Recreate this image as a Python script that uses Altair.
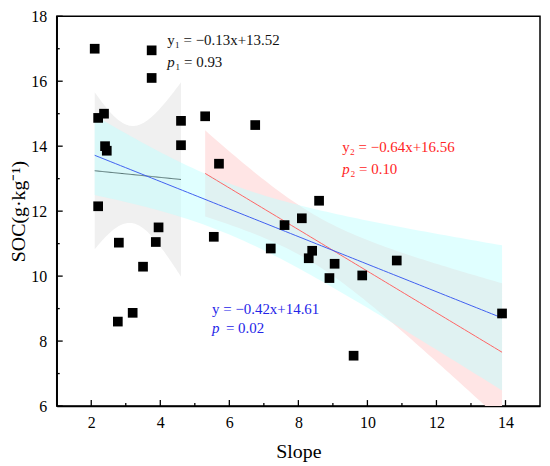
import altair as alt
import numpy as np
import pandas as pd

# ---- data ----
slope = [2.1, 3.75, 3.75, 2.2, 2.37, 2.4, 2.45, 4.6, 4.6, 2.2, 2.8, 3.87, 3.95, 3.5, 2.77, 3.2,
         5.3, 6.75, 5.7, 8.6, 8.1, 7.6, 8.4, 8.3, 9.05, 8.9, 9.85, 10.85, 13.9, 5.55, 7.2, 9.6]
soc = [17.0, 16.95, 16.1, 14.87, 15.0, 14.0, 13.86, 14.78, 14.03, 12.15, 11.03, 11.05, 11.5, 10.29, 8.6, 8.87,
       14.92, 14.65, 13.46, 12.32, 11.78, 11.57, 10.78, 10.55, 10.38, 9.94, 10.02, 10.48, 8.85, 11.21, 10.85, 7.55]
group = ["g1"] * 16 + ["g2"] * 16

x_ticks = [2, 4, 6, 8, 10, 12, 14]
x_minor = [3, 5, 7, 9, 11, 13]
y_ticks = [6, 8, 10, 12, 14, 16, 18]
y_minor = [7, 9, 11, 13, 15, 17]

eq_text = ["y\u2081 = \u22120.13x+13.52", "y\u2082 = \u22120.64x+16.56", "y = \u22120.42x+14.61"]
p_rest = ["\u2081 = 0.93", "\u2082 = 0.10", "= 0.02"]
sub_flag = [1, 1, 0]
txt_color = ["#111111", "#ff2424", "#2424e8"]
eq_x = [4.2, 9.27, 5.5]
eq_y = [17.27, 13.98, 8.98]
p_y = [16.58, 13.3, 8.4]

W, H = 486, 392
FONT = "Liberation Serif"

pts = pd.DataFrame({"slope": slope, "soc": soc, "group": group})


def fit_band(xs, ys, t):
    xs = np.asarray(xs, float)
    ys = np.asarray(ys, float)
    b, a = np.polyfit(xs, ys, 1)
    n = len(xs)
    xm = xs.mean()
    s = np.sqrt(np.sum((ys - (a + b * xs)) ** 2) / (n - 2))
    sxx = np.sum((xs - xm) ** 2)
    grid = np.linspace(xs.min(), xs.max(), 80)
    yhat = a + b * grid
    hw = t * s * np.sqrt(1.0 / n + (grid - xm) ** 2 / sxx)
    return pd.DataFrame({"x": grid, "fit": yhat, "lo": yhat - hw, "hi": yhat + hw})


g1 = pts[pts.group == "g1"]
g2 = pts[pts.group == "g2"]
band1 = fit_band(g1.slope, g1.soc, 2.145)
band2 = fit_band(g2.slope, g2.soc, 2.145)
band_all = fit_band(pts.slope, pts.soc, 2.042)

xs = alt.Scale(domain=[1, 15], nice=False, zero=False)
ys = alt.Scale(domain=[6, 18], nice=False, zero=False)

X = lambda f: alt.X(f, type="quantitative", scale=xs,
                    axis=alt.Axis(values=x_ticks, title="Slope", ticks=False, tickSize=0,
                                  labelPadding=9, titlePadding=11, grid=False))
Y = lambda f: alt.Y(f, type="quantitative", scale=ys,
                    axis=alt.Axis(values=y_ticks, title="SOC(g\u00b7kg\u207b\u00b9)", ticks=False, tickSize=0,
                                  labelPadding=10, titlePadding=2, grid=False))


def area(df, color, opacity):
    return alt.Chart(df).mark_area(color=color, opacity=opacity, clip=True).encode(
        x=X("x"), y=Y("lo"), y2="hi")


def line(df, color):
    return alt.Chart(df).mark_line(color=color, strokeWidth=1, clip=True).encode(x=X("x"), y=Y("fit"))


gray_band = area(band1, "#f0f0f0", 1)
pink_band = area(band2, "#ffe5e5", 1)
cyan_band = area(band_all, "#c1ffff", 0.5)

gray_line = line(band1, "#557272")
red_line = line(band2, "#ff6464")
blue_line = line(band_all, "#3f5ff0")

points = alt.Chart(pts).mark_square(color="black", size=95, opacity=1).encode(x=X("slope"), y=Y("soc"))

xt = pd.DataFrame({"v": x_ticks})
xm_ = pd.DataFrame({"v": x_minor})
yt = pd.DataFrame({"v": y_ticks})
ym_ = pd.DataFrame({"v": y_minor})

xtick_major = alt.Chart(xt).mark_rule(color="black", strokeWidth=1.3).encode(
    x=X("v"), y=alt.value(H), y2=alt.value(H - 6))
xtick_minor = alt.Chart(xm_).mark_rule(color="black", strokeWidth=1.3).encode(
    x=X("v"), y=alt.value(H), y2=alt.value(H - 3))
ytick_major = alt.Chart(yt).mark_rule(color="black", strokeWidth=1.3).encode(
    y=Y("v"), x=alt.value(0), x2=alt.value(6))
ytick_minor = alt.Chart(ym_).mark_rule(color="black", strokeWidth=1.3).encode(
    y=Y("v"), x=alt.value(0), x2=alt.value(3))

ann = pd.DataFrame({"eq": eq_text, "rest": p_rest, "c": txt_color, "x": eq_x, "ey": eq_y, "py": p_y,
                    "p": ["p", "p", "p"], "sub": sub_flag})

eq_layer = alt.Chart(ann).mark_text(font=FONT, fontSize=15, align="left", baseline="middle").encode(
    x=X("x"), y=Y("ey"), text="eq", color=alt.Color("c", scale=None))
p_layer = alt.Chart(ann).mark_text(font=FONT, fontSize=15, fontStyle="italic", align="left",
                                   baseline="middle").encode(
    x=X("x"), y=Y("py"), text="p", color=alt.Color("c", scale=None))
rest_sub = alt.Chart(ann).transform_filter("datum.sub == 1").mark_text(
    font=FONT, fontSize=15, align="left", baseline="middle", dx=8).encode(
    x=X("x"), y=Y("py"), text="rest", color=alt.Color("c", scale=None))
rest_plain = alt.Chart(ann).transform_filter("datum.sub == 0").mark_text(
    font=FONT, fontSize=15, align="left", baseline="middle", dx=14).encode(
    x=X("x"), y=Y("py"), text="rest", color=alt.Color("c", scale=None))

chart = alt.layer(
    gray_band, pink_band, cyan_band, gray_line, red_line, blue_line, points,
    xtick_major, xtick_minor, ytick_major, ytick_minor, eq_layer, p_layer, rest_sub, rest_plain
).properties(
    width=W, height=H,
    background="white",
    autosize=alt.AutoSizeParams(type="none"),
    padding={"left": 49, "top": 7, "right": 2, "bottom": 58},
).configure_view(
    stroke="black", strokeWidth=1.5
).configure_axis(
    domainColor="black", domainWidth=1.5, labelFont=FONT, titleFont=FONT,
    labelFontSize=16, titleFontSize=20, labelColor="black", titleColor="black",
    titleFontWeight="normal"
)

chart.save("out.html", embed_options={"renderer": "svg", "actions": False})
